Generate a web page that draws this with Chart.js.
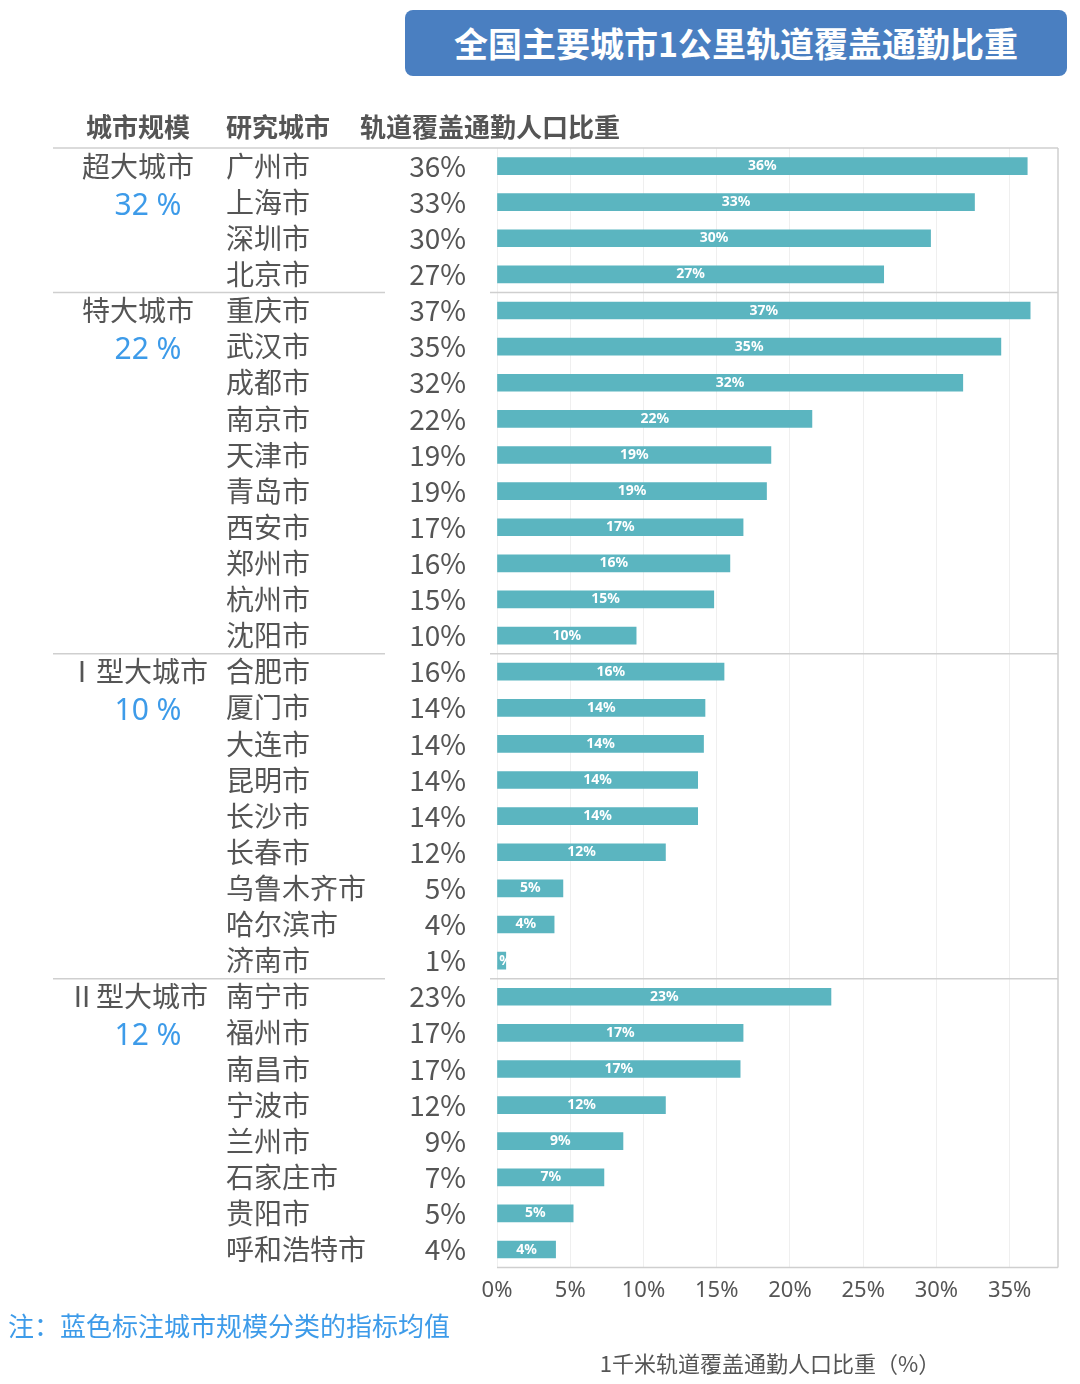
<!DOCTYPE html>
<html>
<head>
<meta charset="utf-8">
<script src="https://cdn.jsdelivr.net/npm/chart.js@4/dist/chart.umd.min.js"></script>
<style>
  body { margin: 0; background: #fff; font-family: "Noto Sans CJK SC", "Noto Sans", sans-serif; }
  #wrap { position: relative; width: 1080px; height: 1384px; }
  #title {
    position: absolute; left: 405px; top: 10px; width: 662px; height: 66px;
    background: #4a7fc1; border-radius: 8px; color: #fff; font-weight: bold;
    font-size: 34px; line-height: 66px; text-align: center;
  }
</style>
</head>
<body>
<div id="wrap">
  <div id="title">全国主要城市1公里轨道覆盖通勤比重</div>
  <canvas id="c" width="1080" height="1384"></canvas>
</div>
<script>
'use strict';

// ====== DATA ======
const cities = ['广州市', '上海市', '深圳市', '北京市',
    '重庆市', '武汉市', '成都市', '南京市', '天津市', '青岛市', '西安市', '郑州市', '杭州市', '沈阳市',
    '合肥市', '厦门市', '大连市', '昆明市', '长沙市', '长春市', '乌鲁木齐市', '哈尔滨市', '济南市',
    '南宁市', '福州市', '南昌市', '宁波市', '兰州市', '石家庄市', '贵阳市', '呼和浩特市'];
const shares = [36.2, 32.6, 29.6, 26.4,
    36.4, 34.4, 31.8, 21.5, 18.7, 18.4, 16.8, 15.9, 14.8, 9.5,
    15.5, 14.2, 14.1, 13.7, 13.7, 11.5, 4.5, 3.9, 0.6,
    22.8, 16.8, 16.6, 11.5, 8.6, 7.3, 5.2, 4.0];
const shareLabels = ['36%', '33%', '30%', '27%',
    '37%', '35%', '32%', '22%', '19%', '19%', '17%', '16%', '15%', '10%',
    '16%', '14%', '14%', '14%', '14%', '12%', '5%', '4%', '1%',
    '23%', '17%', '17%', '12%', '9%', '7%', '5%', '4%'];
const groupNames = ['超大城市', '特大城市', 'Ⅰ型大城市', 'Ⅱ型大城市'];
const groupMeans = ['32 %', '22 %', '10 %', '12 %'];
const groupStarts = [0, 4, 14, 23];
const xTicks = [0, 5, 10, 15, 20, 25, 30, 35];

// ====== SIDE TEXT PLUGIN ======
const sideText = {
    id: 'sideText',
    afterDraw(chart) {
        const ctx = chart.ctx;
        const y = chart.scales.y;
        const area = chart.chartArea;
        const rowH = y.getPixelForValue(1) - y.getPixelForValue(0);
        ctx.save();
        ctx.textBaseline = 'middle';

        // header
        ctx.fillStyle = '#555';
        ctx.font = 'bold 26px "Noto Sans CJK SC"';
        ctx.textAlign = 'left';
        ctx.fillText('城市规模', 86, 127);
        ctx.fillText('研究城市', 226, 127);
        ctx.fillText('轨道覆盖通勤人口比重', 360, 127);

        // rows
        ctx.font = '28px "Noto Sans CJK SC"';
        cities.forEach((c, i) => {
            const py = y.getPixelForValue(i);
            ctx.fillStyle = '#555';
            ctx.textAlign = 'left';
            ctx.fillText(c, 226, py);
            ctx.textAlign = 'right';
            ctx.fillText(shareLabels[i], 466, py);
        });

        // groups
        groupStarts.forEach((s, g) => {
            ctx.textAlign = 'center';
            ctx.fillStyle = '#555';
            ctx.font = '28px "Noto Sans CJK SC"';
            ctx.fillText(groupNames[g], 138, y.getPixelForValue(s));
            ctx.fillStyle = '#3d9be9';
            ctx.font = '30px "Noto Sans", sans-serif';
            ctx.fillText(groupMeans[g], 148, y.getPixelForValue(s + 1) + 4);
        });

        // separators
        ctx.strokeStyle = '#cfcfcf';
        ctx.lineWidth = 1.5;
        ctx.beginPath();
        ctx.moveTo(53, area.top); ctx.lineTo(area.right, area.top);
        groupStarts.slice(1).forEach(s => {
            const py = y.getPixelForValue(s) - rowH / 2;
            ctx.moveTo(53, py); ctx.lineTo(385, py);
            ctx.moveTo(490, py); ctx.lineTo(area.right, py);
        });
        ctx.moveTo(area.right, area.top); ctx.lineTo(area.right, area.bottom);
        ctx.moveTo(area.left, area.bottom); ctx.lineTo(area.right, area.bottom);
        ctx.stroke();

        // bar value labels
        ctx.fillStyle = '#fff';
        ctx.font = 'bold 14px "Noto Sans", sans-serif';
        ctx.textAlign = 'center';
        const meta = chart.getDatasetMeta(0);
        meta.data.forEach((bar, i) => {
            const cx = (bar.base + bar.x) / 2;
            ctx.fillText(shareLabels[i], cx, bar.y);
        });

        // footnote + axis title
        ctx.fillStyle = '#3d9be9';
        ctx.font = '26px "Noto Sans CJK SC"';
        ctx.textAlign = 'left';
        ctx.fillText('注：蓝色标注城市规模分类的指标均值', 8, 1326);
        ctx.fillStyle = '#555';
        ctx.font = '22px "Noto Sans CJK SC"';
        ctx.textAlign = 'center';
        ctx.fillText('1千米轨道覆盖通勤人口比重（%）', 770, 1364);
        ctx.restore();
    }
};

// ====== CHART ======
new Chart(document.getElementById('c'), {
    type: 'bar',
    data: {
        labels: cities,
        datasets: [{
            data: shares,
            backgroundColor: '#5bb5c0',
            barThickness: 17
        }]
    },
    options: {
        indexAxis: 'y',
        responsive: false,
        animation: false,
        layout: { padding: { left: 497, top: 148, right: 22, bottom: 70 } },
        plugins: { legend: { display: false }, tooltip: { enabled: false } },
        scales: {
            x: {
                min: 0, max: 38.3,
                afterBuildTicks: s => { s.ticks = xTicks.map(v => ({ value: v })); },
                grid: { color: '#efefef', drawTicks: false },
                border: { display: false },
                ticks: {
                    color: '#555', padding: 10,
                    font: { size: 22, family: 'Noto Sans' },
                    callback: v => v + '%'
                }
            },
            y: {
                display: false,
                offset: true
            }
        }
    },
    plugins: [sideText]
});
</script>
</body>
</html>
